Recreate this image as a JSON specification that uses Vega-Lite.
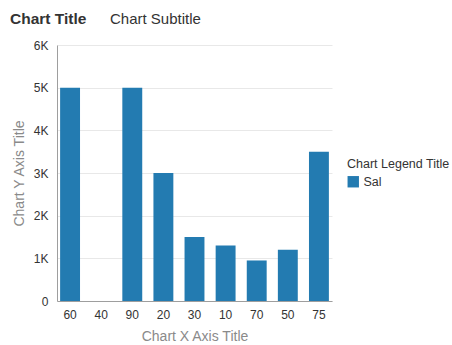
{
  "$schema": "https://vega.github.io/schema/vega-lite/v6.json",
  "autosize": "none",
  "width": 275,
  "height": 256,
  "padding": {"left": 57, "top": 45, "right": 120, "bottom": 44},
  "title": {
    "text": "Chart Title",
    "subtitle": "\u200b\u00a0\u00a0\u00a0\u00a0\u00a0\u00a0\u00a0\u00a0\u00a0\u00a0\u00a0\u00a0\u00a0\u00a0\u00a0\u00a0\u00a0\u00a0\u00a0\u00a0\u00a0\u00a0\u00a0\u00a0Chart Subtitle",
    "anchor": "start",
    "frame": "group",
    "dx": -47,
    "offset": 12,
    "font": "Liberation Sans",
    "fontSize": 15.5,
    "fontWeight": "bold",
    "color": "#333333",
    "subtitleFont": "Liberation Sans",
    "subtitleFontSize": 15,
    "subtitleColor": "#333333",
    "subtitlePadding": -15
  },
  "data": {
    "values": [
      {"dept": "60", "sal": 5000},
      {"dept": "40", "sal": 0},
      {"dept": "90", "sal": 5000},
      {"dept": "20", "sal": 3000},
      {"dept": "30", "sal": 1500},
      {"dept": "10", "sal": 1300},
      {"dept": "70", "sal": 950},
      {"dept": "50", "sal": 1200},
      {"dept": "75", "sal": 3500}
    ]
  },
  "mark": {"type": "bar"},
  "encoding": {
    "x": {
      "field": "dept",
      "type": "nominal",
      "sort": null,
      "title": "Chart X Axis Title",
      "scale": {"paddingInner": 0.36, "paddingOuter": 0.1},
      "axis": {"labelAngle": 0, "ticks": false, "labelPadding": 8, "titlePadding": 9, "domainColor": "#9e9e9e"}
    },
    "y": {
      "field": "sal",
      "type": "quantitative",
      "title": "Chart Y Axis Title",
      "scale": {"domain": [0, 6000]},
      "axis": {
        "values": [0, 1000, 2000, 3000, 4000, 5000, 6000],
        "labelExpr": "datum.value == 0 ? '0' : (datum.value / 1000) + 'K'",
        "ticks": false,
        "labelPadding": 9,
        "titlePadding": 7,
        "domainColor": "#9e9e9e",
        "gridColor": "#e8e8e8"
      }
    },
    "color": {
      "datum": "Sal",
      "type": "nominal",
      "scale": {"range": ["#237bb1"]},
      "legend": {
        "title": "Chart Legend Title",
        "orient": "none",
        "legendX": 290,
        "legendY": 113,
        "symbolType": "square",
        "symbolSize": 130,
        "symbolStrokeWidth": 0
      }
    }
  },
  "config": {
    "font": "Liberation Sans",
    "view": {"stroke": null},
    "axis": {
      "labelFont": "Liberation Sans",
      "labelFontSize": 12,
      "labelColor": "#333333",
      "titleFont": "Liberation Sans",
      "titleFontSize": 14,
      "titleFontWeight": "normal",
      "titleColor": "#8a8a8a"
    },
    "axisX": {"grid": false},
    "legend": {
      "titleFont": "Liberation Sans",
      "titleFontSize": 12.5,
      "titleFontWeight": "normal",
      "titleColor": "#333333",
      "labelFont": "Liberation Sans",
      "labelFontSize": 12.5,
      "labelColor": "#333333"
    }
  }
}
